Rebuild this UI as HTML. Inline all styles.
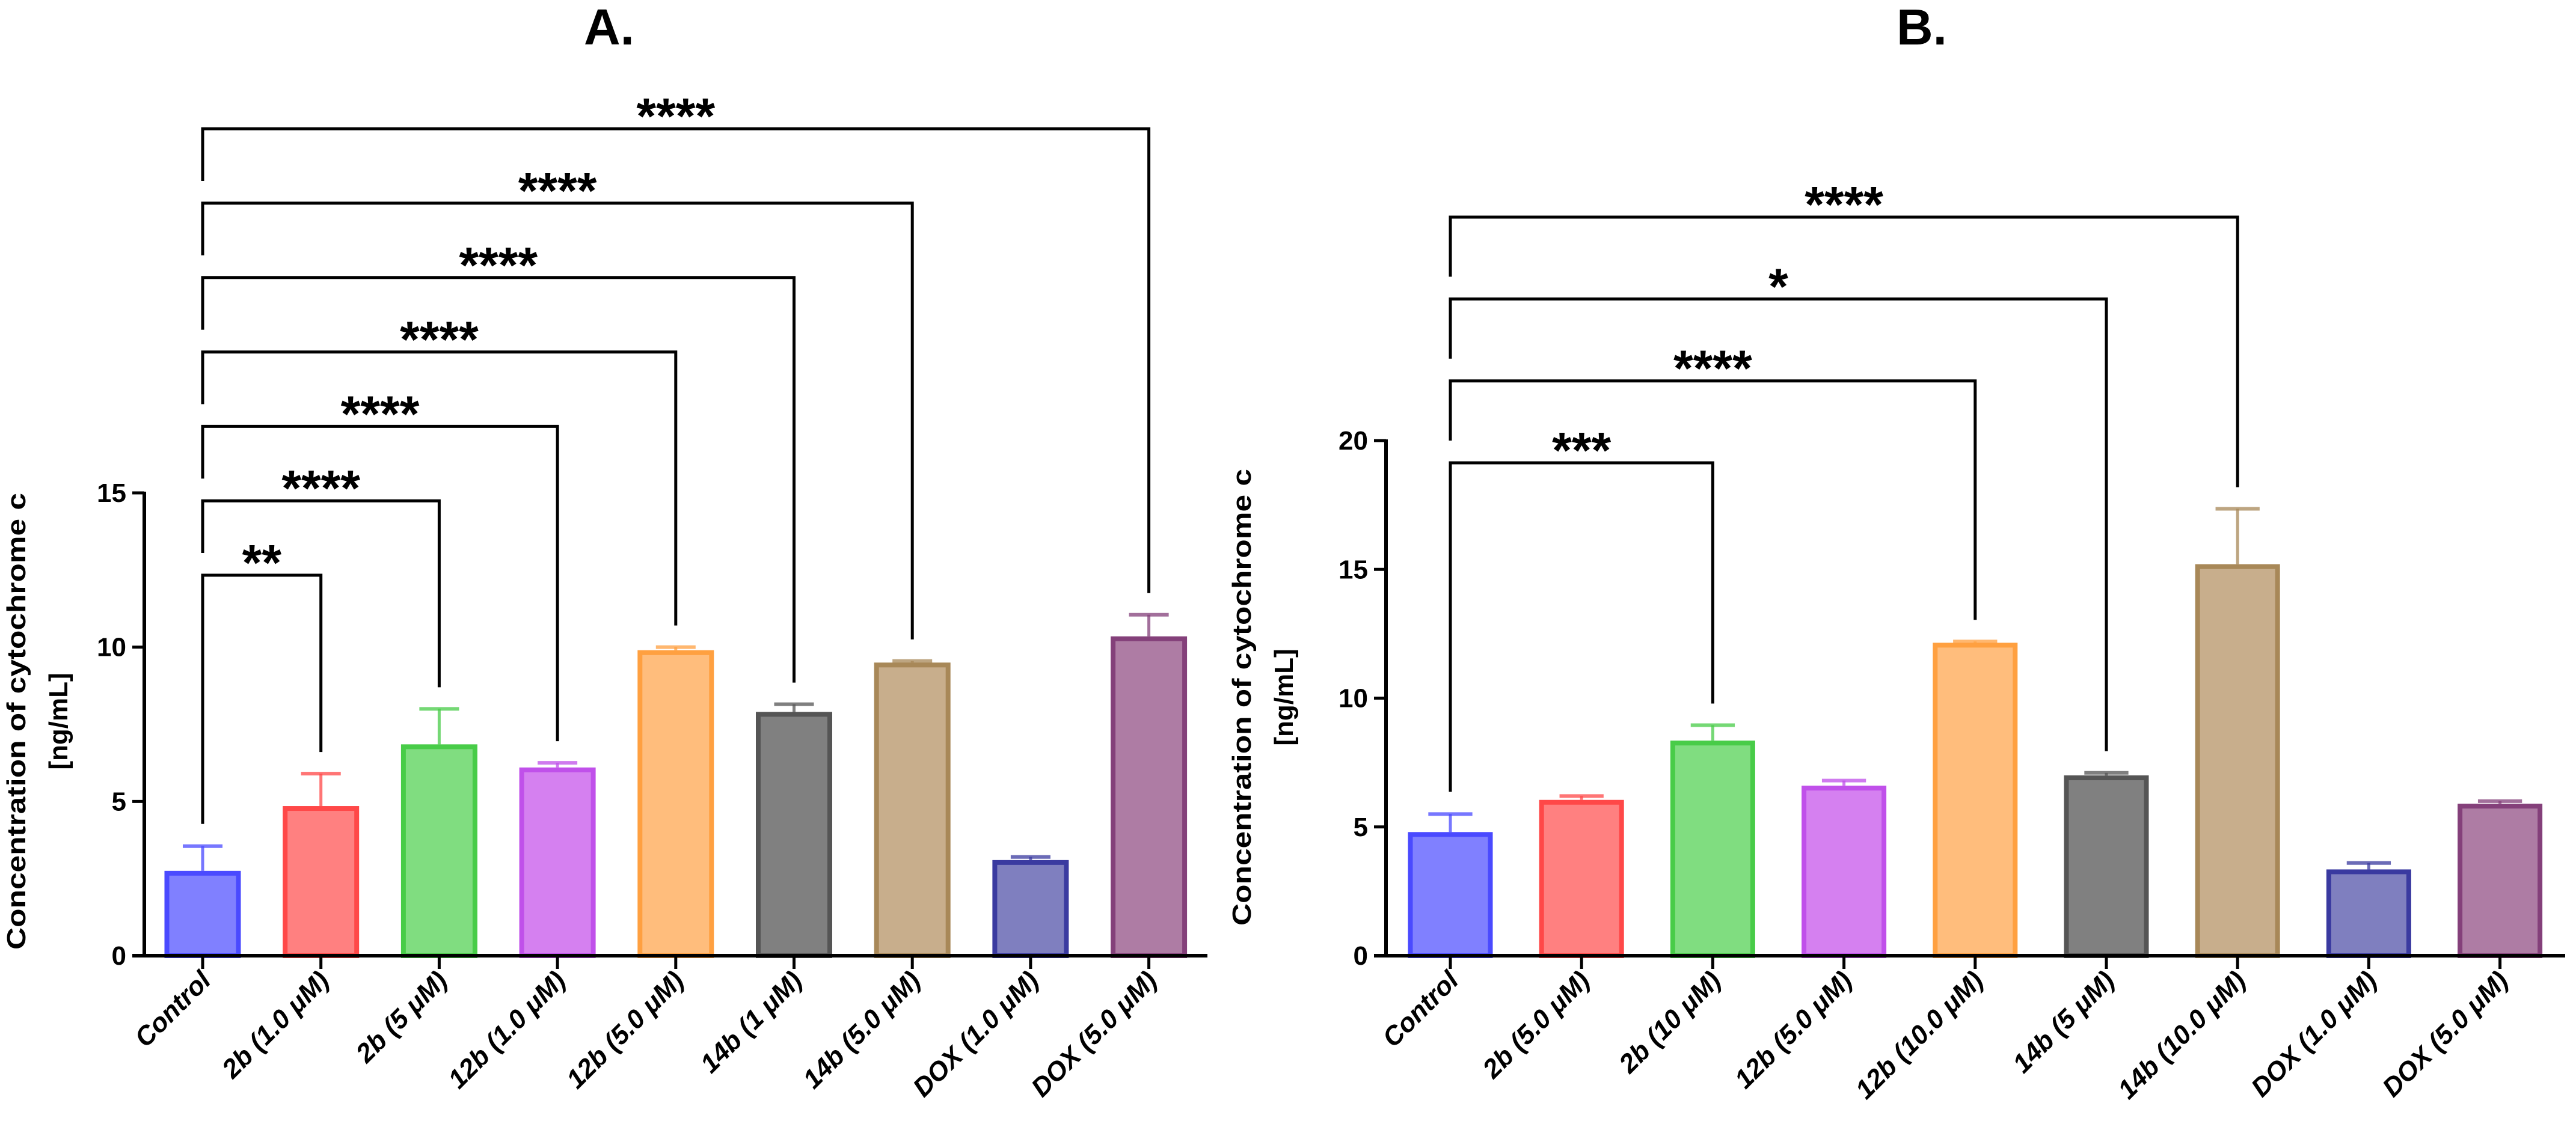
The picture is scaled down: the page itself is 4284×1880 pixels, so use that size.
<!DOCTYPE html>
<html><head><meta charset="utf-8"><style>
html,body{margin:0;padding:0;background:#fff;}
svg{display:block;}
text{font-family:"Liberation Sans",sans-serif;}
</style></head><body>
<svg id="fig" width="4284" height="1880" viewBox="0 0 4284 1880" xmlns="http://www.w3.org/2000/svg"></svg>
<script>
// ---- Data: Panel A ----
const catsA = ["Control","2b (1.0 \u03bcM)","2b (5 \u03bcM)","12b (1.0 \u03bcM)","12b (5.0 \u03bcM)","14b (1 \u03bcM)","14b (5.0 \u03bcM)","DOX (1.0 \u03bcM)","DOX (5.0 \u03bcM)"];
const valsA = [2.75, 4.85, 6.85, 6.1, 9.9, 7.9, 9.5, 3.1, 10.35];
const errA  = [0.8, 1.05, 1.15, 0.15, 0.1, 0.25, 0.05, 0.1, 0.7];
const ticksA = [0, 5, 10, 15];
const sigTargetsA = [1, 2, 3, 4, 5, 6, 8];
const sigLabelsA = ["**","****","****","****","****","****","****"];
// ---- Data: Panel B ----
const catsB = ["Control","2b (5.0 \u03bcM)","2b (10 \u03bcM)","12b (5.0 \u03bcM)","12b (10.0 \u03bcM)","14b (5 \u03bcM)","14b (10.0 \u03bcM)","DOX (1.0 \u03bcM)","DOX (5.0 \u03bcM)"];
const valsB = [4.8, 6.05, 8.35, 6.6, 12.15, 7.0, 15.2, 3.35, 5.9];
const errB  = [0.7, 0.15, 0.6, 0.2, 0.05, 0.1, 2.15, 0.25, 0.1];
const ticksB = [0, 5, 10, 15, 20];
const sigTargetsB = [2, 4, 5, 6];
const sigLabelsB = ["***","****","*","****"];

const fills   = ["#8080ff","#ff8080","#80dd80","#d580f0","#ffbd7c","#808080","#c8ae8c","#7f7fbf","#ae7ca4"];
const strokes = ["#4a4aff","#ff4848","#48cc48","#c050ea","#ffa040","#555555","#a88858","#3a3aa0","#84407a"];

const NS="http://www.w3.org/2000/svg";
const svg=document.getElementById('fig');
function mk(tag,attrs,parent){const e=document.createElementNS(NS,tag);for(const k in attrs)e.setAttribute(k,attrs[k]);(parent||svg).appendChild(e);return e;}

function panel(cfg){
  const g=mk('g',{});
  
  
  const y=v=>cfg.y0-(v/cfg.ymax)*(cfg.y0-cfg.yTop);
  const x=i=>cfg.x0+i*cfg.step;
  const t=mk('text',{x:cfg.titleX,y:74,'font-size':84,'font-weight':'bold','text-anchor':'middle'},g);
  t.textContent=cfg.title;
  
  
  const yl=mk('g',{transform:`translate(${cfg.ylx},${cfg.yly}) rotate(-90)`},g);
  
  
  const l1=mk('text',{x:0,y:0,'font-size':44,'font-weight':'bold','text-anchor':'middle',textLength:760,lengthAdjust:'spacingAndGlyphs'},yl);
  l1.textContent="Concentration of cytochrome c";
  const l2=mk('text',{x:0,y:70,'font-size':44,'font-weight':'bold','text-anchor':'middle'},yl);
  l2.textContent="[ng/mL]";
  cfg.vals.forEach((v,i)=>{
    const cx=x(i), w=cfg.bw, top=y(v), et=y(v+cfg.err[i]);
    const eb=mk('g',{},g);
    
    
    mk('line',{x1:cx,x2:cx,y1:top,y2:et,stroke:strokes[i],'stroke-width':5,opacity:0.75},eb);
    mk('line',{x1:cx-w*0.26,x2:cx+w*0.26,y1:et,y2:et,stroke:strokes[i],'stroke-width':6,opacity:0.75},eb);
    const r=mk('rect',{x:cx-w/2+4,y:top+4,width:w-8,height:cfg.y0-top-4,fill:fills[i],stroke:strokes[i],'stroke-width':8},g);
    
    
  });
  const ax=mk('g',{},g);
  
  
  mk('line',{x1:cfg.axX,x2:cfg.axX,y1:y(cfg.ticks[cfg.ticks.length-1])-2,y2:cfg.y0+2,stroke:'#000','stroke-width':6},ax);
  mk('line',{x1:cfg.axX-20,x2:cfg.axEnd,y1:cfg.y0,y2:cfg.y0,stroke:'#000','stroke-width':6},ax);
  cfg.ticks.forEach(tv=>{
    mk('line',{x1:cfg.axX-20,x2:cfg.axX,y1:y(tv),y2:y(tv),stroke:'#000','stroke-width':5},ax);
    const tl=mk('text',{x:cfg.axX-30,y:y(tv)+15,'font-size':44,'font-weight':'bold','text-anchor':'end'},ax);
    tl.textContent=tv;
    
    
  });
  cfg.cats.forEach((c,i)=>{
    mk('line',{x1:x(i),x2:x(i),y1:cfg.y0,y2:cfg.y0+22,stroke:'#000','stroke-width':5},ax);
    const xl=mk('text',{x:0,y:0,'font-size':44,'font-weight':'bold','font-style':'italic','text-anchor':'end',transform:`translate(${x(i)+16},${cfg.y0+44}) rotate(-45)`},ax);
    xl.textContent=c;
    
    
  });
  cfg.sigT.forEach((ti,k)=>{
    const by=cfg.bLow-k*cfg.bStep;
    const leftBottom = k===0 ? y(cfg.vals[0]+cfg.err[0])-37 : (cfg.bLow-(k-1)*cfg.bStep)-37;
    const rightBottom = y(cfg.vals[ti]+cfg.err[ti])-36;
    const bg=mk('g',{},g);
    
    
    mk('path',{d:`M${x(0)},${leftBottom} V${by} H${x(ti)} V${rightBottom}`,fill:'none',stroke:'#000','stroke-width':5},bg);
    const st=mk('text',{x:(x(0)+x(ti))/2,y:by+8,'font-size':84,'font-weight':'bold','text-anchor':'middle'},bg);
    st.textContent=cfg.sigL[k];
  });
}

panel({id:'panel-a',title:'A.',titleX:1013,cats:catsA,vals:valsA,err:errA,ticks:ticksA,ymax:15,
  y0:1590,yTop:820,x0:337,step:196.7,bw:127,axX:240,axEnd:2008,ylx:42,yly:1200,
  sigT:sigTargetsA,sigL:sigLabelsA,bLow:957,bStep:123.8});
panel({id:'panel-b',title:'B.',titleX:3196,cats:catsB,vals:valsB,err:errB,ticks:ticksB,ymax:20,
  y0:1590,yTop:733,x0:2412,step:218.2,bw:141,axX:2305,axEnd:4266,ylx:2080,yly:1160,
  sigT:sigTargetsB,sigL:sigLabelsB,bLow:770,bStep:136.3});
</script>
</body></html>
